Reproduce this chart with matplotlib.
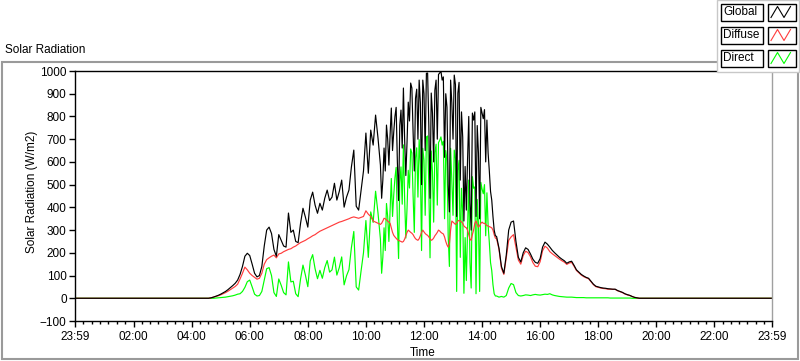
import numpy as np
import matplotlib
matplotlib.use("Agg")
import matplotlib.pyplot as plt
from matplotlib.patches import Rectangle
from matplotlib.lines import Line2D

plt.rcParams["font.family"] = ["Liberation Sans", "DejaVu Sans"]

# sample times (minutes after midnight) for the three logging blocks
t_a = np.arange(4 * 60 + 30, 10 * 60 + 30, 5)      # 04:30 .. 10:25
t_b = np.arange(10 * 60 + 30, 14 * 60 + 30, 2.5)   # 10:30 .. 14:27.5
t_c = np.arange(14 * 60 + 30, 20 * 60 + 5, 5)      # 14:30 .. 20:00

# W/m2
global_a = [0, 0, 2, 5, 9, 13, 18, 24, 30, 38,
            47, 56, 66, 80, 105, 140, 185, 198, 188, 150,
            110, 94, 100, 140, 230, 300, 313, 285, 215, 185,
            280, 255, 230, 225, 375, 290, 300, 250, 245, 330,
            396, 357, 313, 432, 467, 410, 374, 418, 388, 440,
            476, 430, 445, 506, 432, 470, 520, 401, 445, 476,
            577, 652, 405, 388, 476, 560, 727, 550, 740, 674,
            806, 705]
diffuse_a = [0, 0, 2, 5, 8, 11, 15, 20, 25, 31,
             38, 45, 52, 62, 85, 110, 137, 125, 110, 100,
             92, 84, 88, 110, 150, 170, 178, 185, 190, 178,
             195, 198, 205, 210, 215, 218, 225, 230, 238, 245,
             250, 255, 262, 268, 275, 280, 288, 295, 300, 305,
             310, 315, 320, 325, 330, 335, 338, 342, 346, 350,
             355, 358, 355, 352, 356, 360, 385, 370, 360, 340,
             335, 330]
direct_a = [0, 0, 0, 0, 1, 2, 3, 4, 5, 7,
            9, 11, 14, 18, 20, 30, 48, 73, 80, 50,
            18, 10, 12, 30, 80, 130, 135, 100, 25, 8,
            85, 57, 25, 15, 160, 72, 75, 20, 7, 85,
            146, 102, 51, 164, 192, 130, 86, 123, 88, 135,
            166, 115, 125, 181, 102, 135, 182, 59, 99, 126,
            222, 294, 50, 36, 120, 200, 342, 180, 380, 334,
            471, 375]

global_b = [586, 440, 520, 661, 560, 762, 700, 586, 720, 837, 650, 731,
            800, 840, 600, 430, 760, 828, 661, 925, 700, 540, 687, 863,
            780, 947, 925, 731, 560, 880, 920, 700, 960, 860, 500, 960,
            900, 650, 990, 991, 760, 440, 903, 815, 600, 916, 960, 700,
            985, 991, 1000, 960, 974, 620, 900, 841, 500, 380, 960, 860,
            700, 982, 940, 360, 903, 950, 520, 820, 709, 340, 580, 388,
            608, 800, 420, 300, 815, 784, 820, 360, 760, 639, 350, 840,
            815, 790, 830, 600, 784, 639, 560, 470, 432, 360, 300, 275]
diffuse_b = [325, 330, 340, 352, 350, 345, 340, 335, 330, 310, 290, 277,
             270, 264, 258, 255, 252, 250, 247, 250, 260, 275, 290, 300,
             295, 290, 286, 280, 270, 262, 258, 255, 262, 275, 290, 300,
             292, 285, 280, 277, 270, 262, 255, 258, 265, 275, 282, 290,
             300, 296, 290, 286, 283, 270, 250, 235, 225, 240, 300, 340,
             335, 330, 325, 330, 340, 343, 340, 336, 330, 318, 313, 310,
             300, 280, 260, 255, 280, 300, 330, 340, 325, 313, 320, 330,
             335, 330, 330, 325, 320, 318, 315, 313, 310, 300, 280, 265]
direct_b = [260, 110, 180, 310, 210, 417, 360, 250, 390, 527, 360, 454,
            530, 576, 340, 175, 508, 578, 414, 675, 440, 265, 397, 563,
            485, 657, 639, 451, 290, 618, 662, 445, 698, 585, 210, 660,
            608, 365, 710, 714, 490, 178, 648, 557, 335, 641, 678, 410,
            685, 695, 710, 674, 691, 350, 650, 606, 275, 140, 660, 520,
            365, 652, 615, 30, 563, 607, 180, 484, 379, 22, 267, 78,
            308, 520, 160, 45, 535, 484, 490, 20, 435, 326, 30, 510,
            480, 460, 500, 275, 464, 321, 245, 157, 122, 60, 20, 10]

global_c = [272, 220, 140, 110, 190, 300, 335, 340, 250, 180,
            160, 200, 222, 215, 195, 172, 158, 154, 175, 225,
            247, 238, 225, 211, 200, 190, 180, 172, 165, 154,
            160, 163, 145, 125, 115, 105, 98, 92, 88, 75,
            62, 53, 50, 47, 45, 44, 42, 41, 40, 40,
            34, 30, 26, 20, 16, 13, 8, 4, 2, 0,
            0, 0, 0, 0, 0, 0, 0]
diffuse_c = [262, 215, 132, 105, 178, 255, 270, 280, 225, 168,
             150, 188, 207, 201, 183, 157, 141, 139, 161, 209,
             229, 221, 205, 196, 188, 180, 172, 165, 159, 149,
             155, 158, 141, 122, 112, 102, 95, 90, 86, 73,
             60, 51, 48, 45, 43, 42, 40, 40, 39, 39,
             33, 29, 25, 19, 15, 12, 8, 4, 2, 0,
             0, 0, 0, 0, 0, 0, 0]
direct_c = [10, 5, 8, 5, 12, 45, 65, 60, 25, 12,
            10, 12, 15, 14, 12, 15, 17, 15, 14, 16,
            18, 17, 20, 15, 12, 10, 8, 7, 6, 5,
            5, 5, 4, 3, 3, 3, 3, 2, 2, 2,
            2, 2, 2, 2, 2, 2, 2, 1, 1, 1,
            1, 1, 1, 1, 1, 1, 0, 0, 0, 0,
            0, 0, 0, 0, 0, 0, 0]

tick_pos = [-1, 120, 240, 360, 480, 600, 720, 840, 960, 1080, 1200, 1320, 1439]
tick_labels = ["23:59", "02:00", "04:00", "06:00", "08:00", "10:00", "12:00",
               "14:00", "16:00", "18:00", "20:00", "22:00", "23:59"]

W, H = 800, 361
FS = 8.5


def fx(px):
    return px / W


def fy(py):
    return 1 - py / H


def join(a, b, c):
    return np.concatenate([[0], a, b, c, [0]])


t = np.concatenate([[-1], t_a, t_b, t_c, [1439]])
series = [
    ("Direct", join(direct_a, direct_b, direct_c), "#00ff00"),
    ("Diffuse", join(diffuse_a, diffuse_b, diffuse_c), "#ff3c3c"),
    ("Global", join(global_a, global_b, global_c), "#000000"),
]

fig = plt.figure(figsize=(8, 3.61), dpi=100)
ax = fig.add_axes([fx(75), fy(321), 697 / W, 250 / H])

for name, vals, col in series:
    ax.plot(t, vals, color=col, lw=0.85)

ax.set_xlim(-1, 1439)
ax.set_ylim(-100, 1000)
ax.set_yticks(np.arange(-100, 1001, 100))
ax.set_xticks(tick_pos)
ax.set_xticklabels(tick_labels)
minor = []
for a, b in zip(tick_pos[:-1], tick_pos[1:]):
    minor.extend(np.linspace(a, b, 8)[1:-1])
ax.set_xticks(minor, minor=True)

ax.tick_params(axis="both", direction="out", length=4, width=1,
               labelsize=FS, pad=2, colors="black")
ax.tick_params(axis="x", which="minor", direction="out", length=2.5, width=1)
ax.tick_params(axis="x", pad=3)
for s in ("left", "bottom", "top"):
    ax.spines[s].set_color("black")
    ax.spines[s].set_linewidth(1)
ax.spines["right"].set_color("#a0a0a0")
ax.spines["right"].set_linewidth(1)

# outer frame
fig.add_artist(Rectangle((fx(2), fy(359)), 796 / W, 297 / H, transform=fig.transFigure,
                         fill=False, edgecolor="#9a9a9a", lw=1.5))

fig.text(fx(5), fy(50), "Solar Radiation", fontsize=FS, ha="left", va="center")
fig.text(fx(423), fy(353), "Time", fontsize=FS, ha="center", va="center")
fig.text(fx(32), fy(192), "Solar Radiation (W/m2)", fontsize=FS,
         rotation=90, ha="center", va="center")

# legend block at top right
fig.add_artist(Rectangle((fx(717), fy(72)), 82 / W, 72 / H, transform=fig.transFigure,
                         facecolor="white", edgecolor="#c8c8c8", lw=1, zorder=5))
for i, (name, col) in enumerate([("Global", "#000000"), ("Diffuse", "#ff3c3c"),
                                 ("Direct", "#00ff00")]):
    top = 3.5 + 23 * i
    fig.add_artist(Rectangle((fx(721), fy(top + 17)), 42 / W, 17 / H,
                             transform=fig.transFigure, facecolor="white",
                             edgecolor="black", lw=1, zorder=6))
    fig.text(fx(723), fy(top + 8.5), name, fontsize=FS, ha="left", va="center", zorder=7)
    fig.add_artist(Rectangle((fx(768), fy(top + 17)), 28 / W, 17 / H,
                             transform=fig.transFigure, facecolor="white",
                             edgecolor="black", lw=1, zorder=6))
    xs = [771, 777.5, 784, 790.5]
    ys = [top + 14, top + 3, top + 14, top + 3]
    fig.add_artist(Line2D([fx(v) for v in xs], [fy(v) for v in ys],
                          transform=fig.transFigure, color=col, lw=0.8, zorder=7))

fig.savefig("out.png", dpi=100)
